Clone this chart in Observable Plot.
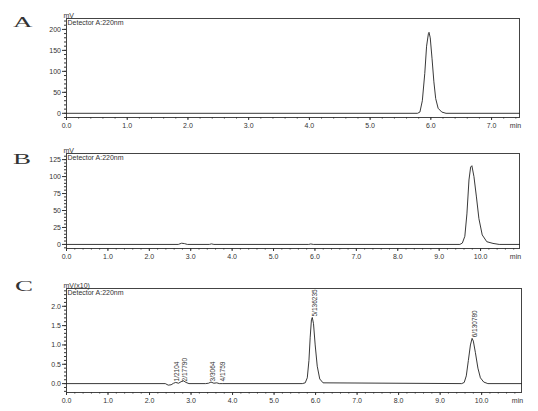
<!DOCTYPE html>
<html><head><meta charset="utf-8">
<script src="https://cdn.jsdelivr.net/npm/d3@7"></script>
<script src="https://cdn.jsdelivr.net/npm/@observablehq/plot@0.6"></script>
<style>
body{margin:0;background:#fff;}
#wrap{position:relative;width:538px;height:411px;overflow:hidden;background:#fff;font-family:"Liberation Sans",Arial,sans-serif;}
.panel{position:absolute;left:0;}
.letter{position:absolute;font-family:"Liberation Serif",serif;font-size:15px;color:#333;transform:scaleX(1.8);transform-origin:left top;line-height:1;}
</style></head><body><div id="wrap"></div>
<script>
// Panel A trace (time in min, signal in mV)
const timeA = [0, 5.78, 5.82, 5.86, 5.90, 5.93, 5.96, 5.97, 5.99, 6.02, 6.05, 6.08, 6.12, 6.18, 6.25, 7.46];
const valueA = [0, 0, 3, 30, 95, 160, 190, 193, 180, 130, 75, 35, 12, 3, 0, 0];
const xTicksA = [0, 1, 2, 3, 4, 5, 6, 7];
const yTicksA = [0, 50, 100, 150, 200];

// Panel B trace
const timeB = [0, 2.70, 2.78, 2.85, 2.92, 3.45, 3.50, 3.56, 5.85, 5.90, 5.96, 9.50, 9.56, 9.62, 9.67, 9.72, 9.76, 9.79, 9.84, 9.90, 9.96, 10.04, 10.15, 10.30, 10.45, 10.94];
const valueB = [0, 0, 1.8, 1.2, 0, 0, 0.8, 0, 0, 0.7, 0, 0, 2, 12, 45, 95, 114, 116, 100, 70, 38, 14, 4, 1.5, 0, 0];
const xTicksBC = [0, 1, 2, 3, 4, 5, 6, 7, 8, 9, 10];
const yTicksB = [0, 25, 50, 75, 100, 125];

// Panel C trace (mV x10)
const timeC = [0, 2.38, 2.45, 2.52, 2.58, 2.63, 2.70, 2.76, 2.82, 2.88, 2.95, 3.35, 3.42, 3.48, 3.55, 3.62, 3.68, 3.75, 5.68, 5.75, 5.80, 5.84, 5.87, 5.90, 5.92, 5.95, 5.99, 6.04, 6.10, 6.18, 9.52, 9.58, 9.63, 9.68, 9.73, 9.77, 9.80, 9.85, 9.91, 9.97, 10.05, 10.15, 10.96];
const valueC = [0, 0, -0.04, -0.03, 0.01, 0.03, 0.01, 0.05, 0.07, 0.03, 0.0, 0.0, 0.01, 0.04, 0.01, 0.02, 0.0, 0, 0, 0.02, 0.15, 0.6, 1.2, 1.65, 1.71, 1.55, 1.0, 0.45, 0.12, 0.02, 0, 0.03, 0.2, 0.6, 1.0, 1.17, 1.1, 0.8, 0.4, 0.15, 0.04, 0.0, 0];
const yTicksC = [0, 0.5, 1.0, 1.5, 2.0];
const peakLabelsC = ["1/2104", "2/17790", "3/3064", "4/1759", "5/136235", "6/130780"];
const peakTimesC = [2.60, 2.80, 3.47, 3.71, 5.92, 9.78];
const peakValuesC = [0.03, 0.03, 0.03, 0.03, 1.71, 1.17];

const ink = "#333";
const font = "Liberation Sans, Arial, sans-serif";

function minorTicks(domain, step) {
  const out = [];
  const start = Math.ceil(domain[0] / step - 1e-9);
  const end = Math.floor(domain[1] / step + 1e-9);
  for (let i = start; i <= end; i++) out.push(+(i * step).toFixed(6));
  return out;
}

function panel(o) {
  const data = o.times.map((t, i) => ({t, v: o.values[i]}));
  const marks = [
    Plot.frame({stroke: "#444", strokeWidth: 1}),
    Plot.axisX({ticks: minorTicks(o.xDomain, 0.2), tickSize: 1.5, text: null, stroke: ink, label: null}),
    Plot.axisX({ticks: o.xTicks, tickSize: 3, tickPadding: 3, tickFormat: d => d.toFixed(1), fontSize: 7, fill: ink, stroke: ink, label: null}),
    Plot.axisY({ticks: minorTicks(o.yDomain, o.yMinor), tickSize: 2, text: null, stroke: ink, label: null}),
    Plot.axisY({ticks: o.yTicks, tickSize: 4, tickPadding: 1.5, tickFormat: o.yFmt, fontSize: 7, fill: ink, stroke: ink, label: null}),
    Plot.line(data, {x: "t", y: "v", stroke: "#222", strokeWidth: 0.9}),
    Plot.text(["min"], {frameAnchor: "bottom-right", dx: -4, dy: 10, fontSize: 7, fill: ink, textAnchor: "middle"}),
    Plot.text([o.unit], {frameAnchor: "top-left", dx: -3, dy: -1, lineAnchor: "bottom", textAnchor: "start", fontSize: 7, fill: ink}),
    Plot.text(["Detector A:220nm"], {frameAnchor: "top-left", dx: 1, dy: 1.5, lineAnchor: "top", textAnchor: "start", fontSize: 7, fill: ink})
  ];
  if (o.labels) {
    const ld = o.labels.map((s, i) => ({s, t: o.labelTimes[i], v: o.labelValues[i]}));
    marks.push(Plot.text(ld, {x: "t", y: "v", text: "s", rotate: -90, textAnchor: "start", lineAnchor: "top", dy: -1, fontSize: 6.5, fill: ink}));
  }
  const svg = Plot.plot({
    width: 538,
    height: o.height,
    marginLeft: 66,
    marginRight: o.mr,
    marginTop: o.mt,
    marginBottom: o.mb,
    style: {fontFamily: font, background: "transparent", overflow: "visible"},
    x: {domain: o.xDomain, axis: null, label: null},
    y: {domain: o.yDomain, axis: null, label: null},
    marks
  });
  svg.classList.add("panel");
  svg.style.top = o.top + "px";
  return svg;
}

const wrap = document.getElementById("wrap");
wrap.appendChild(panel({
  top: 0, height: 137, mt: 18, mb: 20, mr: 19,
  xDomain: [0, 7.46], yDomain: [-10, 226], xTicks: xTicksA, yTicks: yTicksA, yMinor: 10,
  yFmt: d => String(d), unit: "mV", times: timeA, values: valueA
}));
wrap.appendChild(panel({
  top: 137, height: 130, mt: 16, mb: 19, mr: 19,
  xDomain: [0, 10.94], yDomain: [-6, 134], xTicks: xTicksBC, yTicks: yTicksB, yMinor: 5,
  yFmt: d => String(d), unit: "mV", times: timeB, values: valueB
}));
wrap.appendChild(panel({
  top: 267, height: 144, mt: 21, mb: 19, mr: 17,
  xDomain: [0, 10.96], yDomain: [-0.23, 2.46], xTicks: xTicksBC, yTicks: yTicksC, yMinor: 0.1,
  yFmt: d => d.toFixed(1), unit: "mV(x10)", times: timeC, values: valueC,
  labels: peakLabelsC, labelTimes: peakTimesC, labelValues: peakValuesC
}));

const letters = [["A", 13, 15], ["B", 13, 152], ["C", 15, 279]];
for (const [s, x, y] of letters) {
  const d = document.createElement("div");
  d.className = "letter";
  d.textContent = s;
  d.style.left = x + "px";
  d.style.top = y + "px";
  wrap.appendChild(d);
}
</script></body></html>
